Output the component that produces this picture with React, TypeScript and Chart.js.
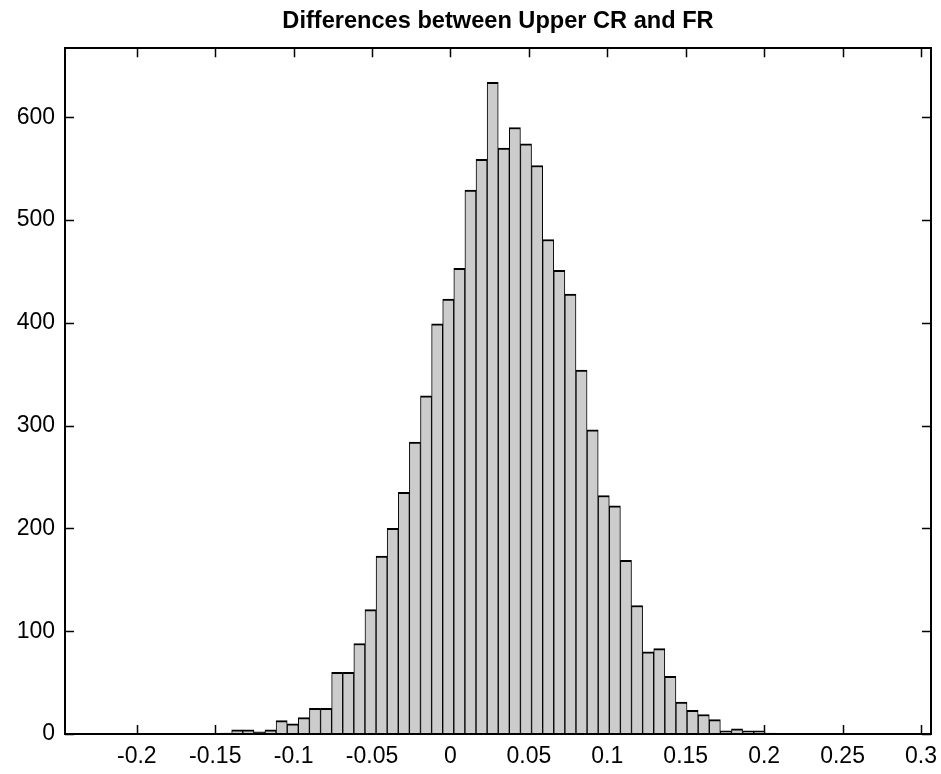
import React, { useEffect, useRef } from 'react';
import { Chart, registerables } from 'chart.js';

Chart.register(...registerables);

const TITLE = 'Differences between Upper CR and FR';

// histogram bin centres (x) and counts
const binCenters = [
  -0.14306, -0.13598, -0.1289, -0.12181, -0.11473, -0.10765, -0.10057, -0.09349, -0.0864, -0.07932,
  -0.07224, -0.06516, -0.05808, -0.05099, -0.04391, -0.03683, -0.02975, -0.02267, -0.01558, -0.0085,
  -0.00142, 0.00566, 0.01274, 0.01983, 0.02691, 0.03399, 0.04107, 0.04815, 0.05524, 0.06232,
  0.0694, 0.07648, 0.08356, 0.09065, 0.09773, 0.10481, 0.11189, 0.11897, 0.12606, 0.13314,
  0.14022, 0.1473, 0.15438, 0.16147, 0.16855, 0.17563, 0.18271, 0.18979, 0.19688, 0.20396,
];

const counts = [
  1, 4, 4, 2, 4, 13, 10, 16, 25, 25,
  60, 60, 88, 121, 173, 200, 235, 284, 329, 399,
  423, 453, 529, 559, 634, 570, 590, 574, 553, 481,
  451, 428, 354, 296, 232, 222, 169, 125, 80, 83,
  56, 31, 23, 19, 14, 3, 5, 3, 3, 1,
];

const xTicks = [-0.2, -0.15, -0.1, -0.05, 0, 0.05, 0.1, 0.15, 0.2, 0.25, 0.3];
const yTicks = [0, 100, 200, 300, 400, 500, 600];

const X_MIN = -0.2458;
const X_MAX = 0.3064;
const Y_MIN = 0;
const Y_MAX = 667;

const FONT = 'Liberation Sans, Arial, Helvetica, sans-serif';
const fmt = (v: number) => String(Math.round(v * 100) / 100);

const framePlugin = {
  id: 'matlabFrame',
  beforeDatasetsDraw(chart: any) {
    const { ctx, chartArea: a, scales } = chart;
    const x = scales.x;
    const y = scales.y;
    const L = 9;
    ctx.save();
    ctx.strokeStyle = '#000';
    ctx.lineWidth = 1.5;
    ctx.beginPath();
    xTicks.forEach((v) => {
      const px = Math.round(x.getPixelForValue(v)) + 0.5;
      ctx.moveTo(px, a.bottom);
      ctx.lineTo(px, a.bottom - L);
      ctx.moveTo(px, a.top);
      ctx.lineTo(px, a.top + L);
    });
    yTicks.forEach((v) => {
      const py = Math.round(y.getPixelForValue(v)) + 0.5;
      ctx.moveTo(a.left, py);
      ctx.lineTo(a.left + L, py);
      ctx.moveTo(a.right, py);
      ctx.lineTo(a.right - L, py);
    });
    ctx.stroke();
    ctx.restore();
  },
  afterDatasetsDraw(chart: any) {
    const { ctx, chartArea: a } = chart;
    ctx.save();
    ctx.strokeStyle = '#000';
    ctx.lineWidth = 2;
    ctx.strokeRect(Math.round(a.left), Math.round(a.top), Math.round(a.right - a.left), Math.round(a.bottom - a.top));
    ctx.restore();
  },
};

export default function App() {
  const ref = useRef<HTMLCanvasElement | null>(null);

  useEffect(() => {
    if (!ref.current) return;
    const chart = new Chart(ref.current, {
      type: 'bar',
      data: {
        datasets: [
          {
            data: binCenters.map((c, i) => ({ x: c, y: counts[i] })),
            backgroundColor: '#cccccc',
            borderColor: '#000000',
            borderWidth: { top: 2, left: 1, right: 1, bottom: 0 },
            barPercentage: 1,
            categoryPercentage: 1,
          },
        ],
      },
      options: {
        animation: false,
        responsive: false,
        layout: { padding: { left: 0, right: 10, top: 0, bottom: 0 } },
        plugins: {
          legend: { display: false },
          tooltip: { enabled: false },
          title: {
            display: true,
            text: TITLE,
            fullSize: false,
            color: '#000',
            font: { family: FONT, size: 23.6, weight: 'bold' },
            padding: { top: 7, bottom: 13 },
          },
        },
        scales: {
          x: {
            type: 'linear',
            min: X_MIN,
            max: X_MAX,
            offset: false,
            grid: { display: false, drawTicks: false, offset: false },
            border: { display: false },
            ticks: {
              color: '#000',
              font: { family: FONT, size: 23 },
              padding: 9,
              maxRotation: 0,
              autoSkip: false,
              callback: (v: any) => fmt(Number(v)),
            },
            afterBuildTicks: (s: any) => {
              s.ticks = xTicks.map((v) => ({ value: v }));
            },
            afterFit: (s: any) => {
              s.height = 40;
              s.paddingLeft = 0;
              s.paddingRight = 0;
            },
          },
          y: {
            type: 'linear',
            min: Y_MIN,
            max: Y_MAX,
            grid: { display: false, drawTicks: false },
            border: { display: false },
            ticks: {
              color: '#000',
              font: { family: FONT, size: 23 },
              padding: 10,
              autoSkip: false,
              callback: (v: any) => fmt(Number(v)),
            },
            afterBuildTicks: (s: any) => {
              s.ticks = yTicks.map((v) => ({ value: v }));
            },
            afterFit: (s: any) => {
              s.width = 65;
              s.paddingTop = 0;
              s.paddingBottom = 0;
            },
          },
        },
      },
      plugins: [framePlugin],
    } as any);
    return () => chart.destroy();
  }, []);

  return (
    <div style={{ position: 'absolute', left: 0, top: 0, width: 941, height: 774, background: '#fff' }}>
      <canvas ref={ref} width={941} height={774} />
    </div>
  );
}
